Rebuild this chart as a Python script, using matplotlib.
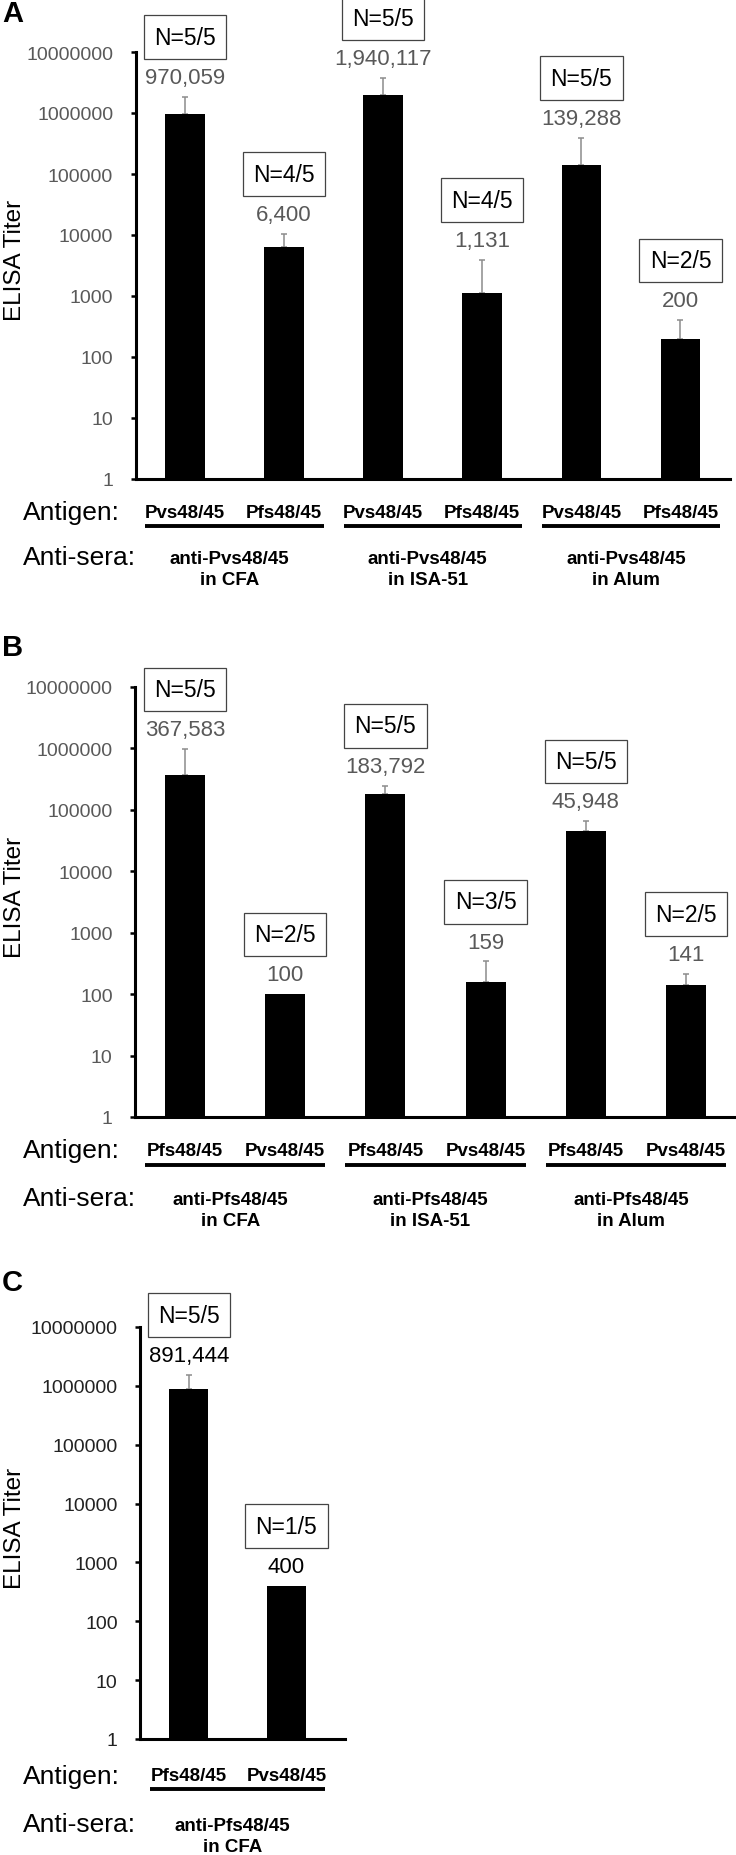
import matplotlib
matplotlib.use('Agg')
import matplotlib.pyplot as plt
from matplotlib import transforms

plt.rcParams['font.family'] = ['Liberation Sans', 'DejaVu Sans']

W, H = 736, 1856

# panel A
a_antigen = ['Pvs48/45', 'Pfs48/45', 'Pvs48/45', 'Pfs48/45', 'Pvs48/45', 'Pfs48/45']
a_titer = [970059, 6400, 1940117, 1131, 139288, 200]
a_err = [860000, 4000, 1760000, 2770, 250000, 200]
a_n = ['N=5/5', 'N=4/5', 'N=5/5', 'N=4/5', 'N=5/5', 'N=2/5']
a_sera = ['anti-Pvs48/45\nin CFA', 'anti-Pvs48/45\nin ISA-51', 'anti-Pvs48/45\nin Alum']

# panel B
b_antigen = ['Pfs48/45', 'Pvs48/45', 'Pfs48/45', 'Pvs48/45', 'Pfs48/45', 'Pvs48/45']
b_titer = [367583, 100, 183792, 159, 45948, 141]
b_err = [607000, 0, 64000, 181, 19000, 72]
b_n = ['N=5/5', 'N=2/5', 'N=5/5', 'N=3/5', 'N=5/5', 'N=2/5']
b_sera = ['anti-Pfs48/45\nin CFA', 'anti-Pfs48/45\nin ISA-51', 'anti-Pfs48/45\nin Alum']

# panel C
c_antigen = ['Pfs48/45', 'Pvs48/45']
c_titer = [891444, 400]
c_err = [650000, 0]
c_n = ['N=5/5', 'N=1/5']
c_sera = ['anti-Pfs48/45\nin CFA']

yticks = [1, 10, 100, 1000, 10000, 100000, 1000000, 10000000]


def fy(px):
    return 1 - px / H


def draw_panel(fig, box, letter, letter_y, antigens, titers, errs, ns, sera,
               rows, value_color, tick_color, xmax):
    left, top, right, bottom = box
    ax = fig.add_axes([left / W, fy(bottom), (right - left) / W, (bottom - top) / H])
    x = list(range(len(titers)))
    ax.bar(x, titers, width=0.4, color='black', zorder=2)
    # only the upper half of the error bar is shown
    ex = [xi for xi, e in zip(x, errs) if e > 0]
    ey = [t for t, e in zip(titers, errs) if e > 0]
    ee = [e for e in errs if e > 0]
    ax.errorbar(ex, ey, yerr=[[0] * len(ee), ee], fmt='none',
                ecolor='#8c8c8c', elinewidth=1.1, capsize=2.2, capthick=1.1, zorder=1)
    ax.set_yscale('log')
    ax.set_ylim(1, 1e7)
    ax.set_xlim(-0.5, xmax)
    ax.set_yticks(yticks)
    ax.set_yticklabels([str(t) for t in yticks])
    ax.minorticks_off()
    ax.set_xticks([])
    for s in ['top', 'right']:
        ax.spines[s].set_visible(False)
    for s in ['left', 'bottom']:
        ax.spines[s].set_linewidth(2.2)
    ax.tick_params(axis='y', direction='out', length=3.6, width=1.8, pad=12.5,
                   labelsize=14, labelcolor=tick_color)

    for xi, t, e, n in zip(x, titers, errs, ns):
        ax.annotate('{:,}'.format(t), (xi, t + e), xytext=(0, 14), textcoords='offset points',
                    ha='center', va='center', fontsize=16, color=value_color,
                    annotation_clip=False)
        ax.annotate(n, (xi, t + e), xytext=(0, 43), textcoords='offset points',
                    ha='center', va='center', fontsize=16.5, color='black',
                    annotation_clip=False,
                    bbox=dict(boxstyle='square,pad=0.45', fc='white', ec='#444444', lw=0.9))

    fig.text(2 / W, fy(letter_y), letter, fontsize=21, fontweight='bold', va='center')
    fig.text(15 / W, fy((top + bottom) / 2 - 6), 'ELISA Titer', fontsize=17.5, rotation=90,
             ha='center', va='center')

    antigen_y, line_y, sera_y = rows
    trans = transforms.blended_transform_factory(ax.transData, fig.transFigure)
    fig.text(23 / W, fy(antigen_y), 'Antigen:', fontsize=19, va='center')
    fig.text(23 / W, fy(sera_y), 'Anti-sera:', fontsize=19, va='center')
    for xi, lab in zip(x, antigens):
        ax.text(xi, fy(antigen_y), lab, transform=trans, fontsize=13.5, fontweight='bold',
                ha='center', va='center')
    for g, lab in enumerate(sera):
        ax.plot([2 * g - 0.4, 2 * g + 1.4], [fy(line_y), fy(line_y)], transform=trans,
                color='black', lw=2.8, clip_on=False, solid_capstyle='butt')
        ax.text(2 * g + 0.45, fy(sera_y + 12), lab, transform=trans, fontsize=13.5,
                fontweight='bold', ha='center', va='center', linespacing=1.3)
    return ax


fig = plt.figure(figsize=(W / 100, H / 100), dpi=100)

draw_panel(fig, (135.5, 53, 730, 480), 'A', 14, a_antigen, a_titer, a_err, a_n, a_sera,
           (513, 527, 558), '#595959', '#595959', 5.5)
draw_panel(fig, (135, 688, 736, 1118), 'B', 648, b_antigen, b_titer, b_err, b_n, b_sera,
           (1151, 1166, 1199), '#595959', '#595959', 5.5)
draw_panel(fig, (140, 1328, 345, 1740), 'C', 1283, c_antigen, c_titer, c_err, c_n, c_sera,
           (1777, 1790, 1825), 'black', '#222222', 1.6)

fig.savefig('out.png', dpi=100, facecolor='white')
